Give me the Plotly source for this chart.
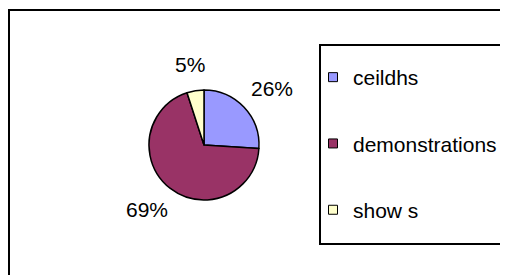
import math
import plotly.graph_objects as go

labels = ["ceildhs", "demonstrations", "show s"]
values = [26, 69, 5]
colors = ["#9999FF", "#993366", "#FFFFCC"]

# page is drawn inside the body's default 8px margin
OFF = 8
W, H = 500, 267
FONT = "Liberation Sans, Arial, sans-serif"
FS = 21


def px(X):
    return (X - OFF) / W


def py(Y):
    return 1 - (Y - OFF) / H


CX, CY, R = 204, 145, 55  # pie centre / radius in page pixels

fig = go.Figure()
fig.add_trace(go.Pie(
    labels=labels, values=values, sort=False, direction="clockwise", rotation=0,
    marker=dict(colors=colors, line=dict(color="black", width=1.5)),
    textinfo="none",
    domain=dict(x=[px(CX - R), px(CX + R)], y=[py(CY + R), py(CY - R)]),
    showlegend=False, hoverinfo="skip",
))

for i, (lab, col) in enumerate(zip(labels, colors)):
    fig.add_trace(go.Scatter(
        x=[None], y=[None], mode="markers", name=lab, legendgroup=f"g{i}",
        marker=dict(symbol="square", size=9, color=col, line=dict(color="black", width=1)),
    ))

# percent labels outside the slices, placed from the data
annotations = []
total = sum(values)
start = 0.0
for v in values:
    mid = (start + v / 2) / total * 2 * math.pi
    start += v
    s, c = math.sin(mid), math.cos(mid)
    txt = f"{round(v / total * 100)}%"
    w, h = 14.5 * len(txt), 20
    d = R + 17
    X = CX + s * (d + w / 2)
    Y = CY - c * (d + h / 2)
    annotations.append(dict(
        x=px(X), y=py(Y), xref="paper", yref="paper", xanchor="center", yanchor="middle",
        text=txt, showarrow=False,
        font=dict(family=FONT, size=FS, color="black"),
    ))

fig.update_layout(
    width=W, height=H, margin=dict(l=0, r=0, t=0, b=0),
    paper_bgcolor="white", plot_bgcolor="white",
    xaxis=dict(visible=False), yaxis=dict(visible=False),
    font=dict(family=FONT, size=FS, color="black"),
    legend=dict(x=px(313), y=py(57), xanchor="left", yanchor="top",
                bgcolor="rgba(0,0,0,0)", borderwidth=0, tracegroupgap=36,
                font=dict(family=FONT, size=FS, color="black")),
    annotations=annotations,
    shapes=[
        dict(type="rect", xref="paper", yref="paper", x0=px(9), x1=1.2, y0=-0.2, y1=py(10),
             line=dict(color="black", width=2)),
        dict(type="rect", xref="paper", yref="paper", x0=px(320), x1=px(501), y0=py(244), y1=py(45),
             line=dict(color="black", width=2)),
    ],
)

fig.write_html("out.html")
